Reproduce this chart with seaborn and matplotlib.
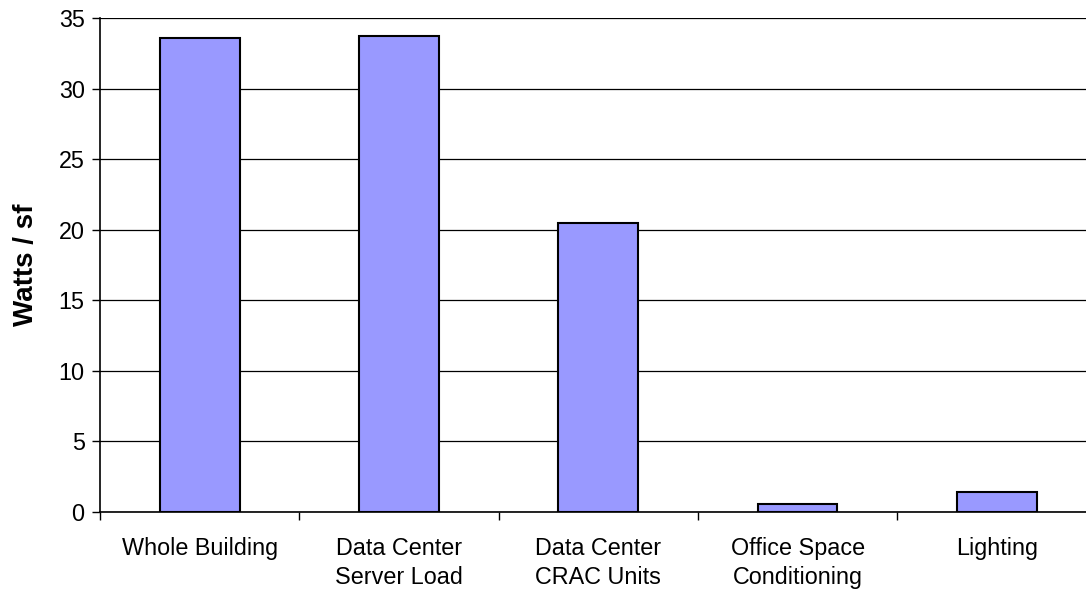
import numpy as np
import pandas as pd
import seaborn as sns
import matplotlib.pyplot as plt

categories = ["Whole Building", "Data Center\nServer Load", "Data Center\nCRAC Units",
              "Office Space\nConditioning", "Lighting"]
watts_per_sf = [33.6, 33.75, 20.45, 0.55, 1.45]
y_ticks = [0, 5, 10, 15, 20, 25, 30, 35]


def main():
    sns.set_theme(style="white")
    plt.rcParams["font.family"] = ["Liberation Sans", "DejaVu Sans"]

    df = pd.DataFrame({"cat": categories, "val": watts_per_sf})

    fig = plt.figure(figsize=(10.86, 5.92), dpi=100)
    # the plot area runs a little past the right edge of the picture
    ax = fig.add_axes([0.0921, 0.1351, 0.9176, 0.8345])

    sns.barplot(data=df, x="cat", y="val", color="#9999FF", saturation=1,
                width=0.4, edgecolor="black", linewidth=1.5, ax=ax, zorder=3)

    ax.set_ylim(0, 35)
    ax.set_xlim(-0.5, len(categories) - 0.5)
    ax.set_yticks(y_ticks)
    ax.yaxis.grid(True, color="black", linewidth=0.9)
    ax.set_axisbelow(True)

    # ticks at the category borders, labels at the centres
    ax.set_xticks(np.arange(-0.5, len(categories)), minor=True)
    ax.tick_params(axis="x", which="major", length=0, labelsize=16.8, pad=18, colors="black")
    ax.tick_params(axis="x", which="minor", length=6, width=1, direction="out",
                   bottom=True, color="black")
    ax.tick_params(axis="y", length=6, width=1, direction="out", left=True,
                   labelsize=16.8, pad=5, colors="black")
    for lbl in ax.get_xticklabels():
        lbl.set_linespacing(1.35)

    for s in ["top", "right"]:
        ax.spines[s].set_visible(False)
    for s in ["left", "bottom"]:
        ax.spines[s].set_color("black")
        ax.spines[s].set_linewidth(1.2)

    ax.set_xlabel("")
    ax.set_ylabel("Watts / sf", fontsize=20, fontweight="bold", labelpad=14, color="black")

    fig.savefig("out.png", dpi=100)


if __name__ == "__main__":
    main()
